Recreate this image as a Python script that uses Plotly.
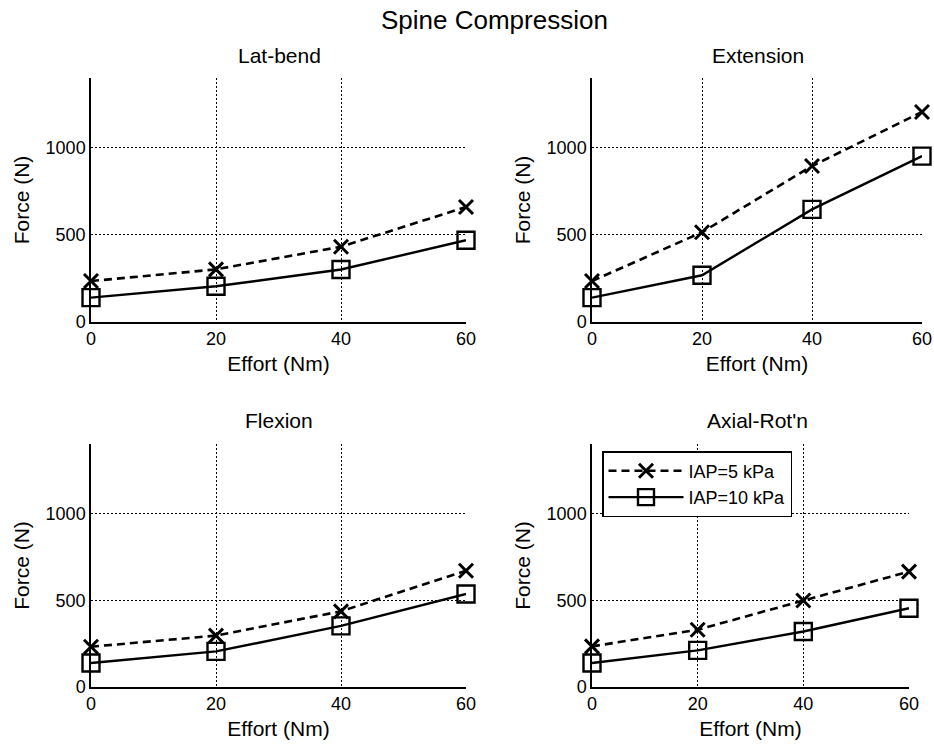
import plotly.graph_objects as go

effort = [0, 20, 40, 60]
panels = ["Lat-bend", "Extension", "Flexion", "Axial-Rot'n"]
iap5 = {
    "Lat-bend": [235, 302, 432, 660],
    "Extension": [235, 515, 895, 1205],
    "Flexion": [232, 296, 436, 670],
    "Axial-Rot'n": [234, 330, 498, 665],
}
iap10 = {
    "Lat-bend": [140, 205, 301, 469],
    "Extension": [140, 268, 646, 952],
    "Flexion": [138, 205, 352, 536],
    "Axial-Rot'n": [138, 211, 320, 454],
}
series_names = ["IAP=5 kPa", "IAP=10 kPa"]
x_ticks = [0, 20, 40, 60]
y_ticks = [0, 500, 1000]

W, H = 934, 744
FONT = "Liberation Sans, Arial, Helvetica, sans-serif"

# pixel boxes (left, right, top, bottom)
boxes = [
    (91, 466, 78, 322),
    (592, 922, 78, 322),
    (91, 466, 444, 687),
    (592, 909, 444, 687),
]
title_pos = [(279, 55), (758, 55), (279, 420), (757, 420)]

fig = go.Figure()
layout = dict(
    width=W, height=H,
    margin=dict(l=0, r=0, t=0, b=0, autoexpand=False),
    paper_bgcolor="white", plot_bgcolor="white",
    font=dict(family=FONT, color="black", size=18),
    showlegend=True,
    annotations=[],
)

for i, (name, (l, r, t, b)) in enumerate(zip(panels, boxes)):
    n = i + 1
    xa = "x" if n == 1 else f"x{n}"
    ya = "y" if n == 1 else f"y{n}"
    fig.add_trace(go.Scatter(
        x=effort, y=iap5[name], xaxis=xa, yaxis=ya,
        mode="lines+markers", name=series_names[0], showlegend=(n == 4),
        line=dict(color="black", width=2.6, dash="8px,5px"),
        marker=dict(symbol="x-thin", size=14, line=dict(color="black", width=3)),
        cliponaxis=False,
    ))
    fig.add_trace(go.Scatter(
        x=effort, y=iap10[name], xaxis=xa, yaxis=ya,
        mode="lines+markers", name=series_names[1], showlegend=(n == 4),
        line=dict(color="black", width=2.4),
        marker=dict(symbol="square-open", size=17, color="black", line=dict(color="black", width=2.4)),
        cliponaxis=False,
    ))
    xkey = "xaxis" if n == 1 else f"xaxis{n}"
    ykey = "yaxis" if n == 1 else f"yaxis{n}"
    layout[xkey] = dict(
        domain=[l / W, r / W], anchor=ya, range=[0, 60], automargin=False,
        tickvals=x_ticks, ticks="", showline=True, linecolor="black", linewidth=1.5,
        showgrid=True, gridcolor="black", gridwidth=1, griddash="2px,2px",
        zeroline=False, tickfont=dict(size=18, family=FONT, color="black"),
        title=dict(text="Effort (Nm)", font=dict(size=21, family=FONT, color="black"), standoff=8),
        fixedrange=True,
    )
    layout[ykey] = dict(
        domain=[1 - b / H, 1 - t / H], anchor=xa, range=[0, 1400], automargin=False,
        tickvals=y_ticks, ticks="", showline=True, linecolor="black", linewidth=1.5,
        showgrid=True, gridcolor="black", gridwidth=1, griddash="2px,2px",
        zeroline=False, tickfont=dict(size=18, family=FONT, color="black"),
        title=dict(text="Force (N)", font=dict(size=21, family=FONT, color="black"), standoff=10),
        fixedrange=True,
    )
    tx, ty = title_pos[i]
    layout["annotations"].append(dict(
        text=name, x=tx / W, y=1 - ty / H, xref="paper", yref="paper",
        xanchor="center", yanchor="middle", showarrow=False,
        font=dict(size=21, family=FONT, color="black"),
    ))

layout["annotations"].append(dict(
    text="Spine Compression", x=494 / W, y=1 - 20 / H, xref="paper", yref="paper",
    xanchor="center", yanchor="middle", showarrow=False,
    font=dict(size=26, family=FONT, color="black"),
))

layout["legend"] = dict(
    x=602 / W, y=1 - 451 / H, xanchor="left", yanchor="top",
    bgcolor="white", bordercolor="black", borderwidth=1.5,
    font=dict(size=18, family=FONT, color="black"),
    tracegroupgap=0, itemwidth=75,
)

fig.update_layout(**layout)
fig.write_html(
    "out.html",
    config={"displayModeBar": False},
    post_script="document.body.style.margin='0';document.body.style.overflow='hidden';",
)
